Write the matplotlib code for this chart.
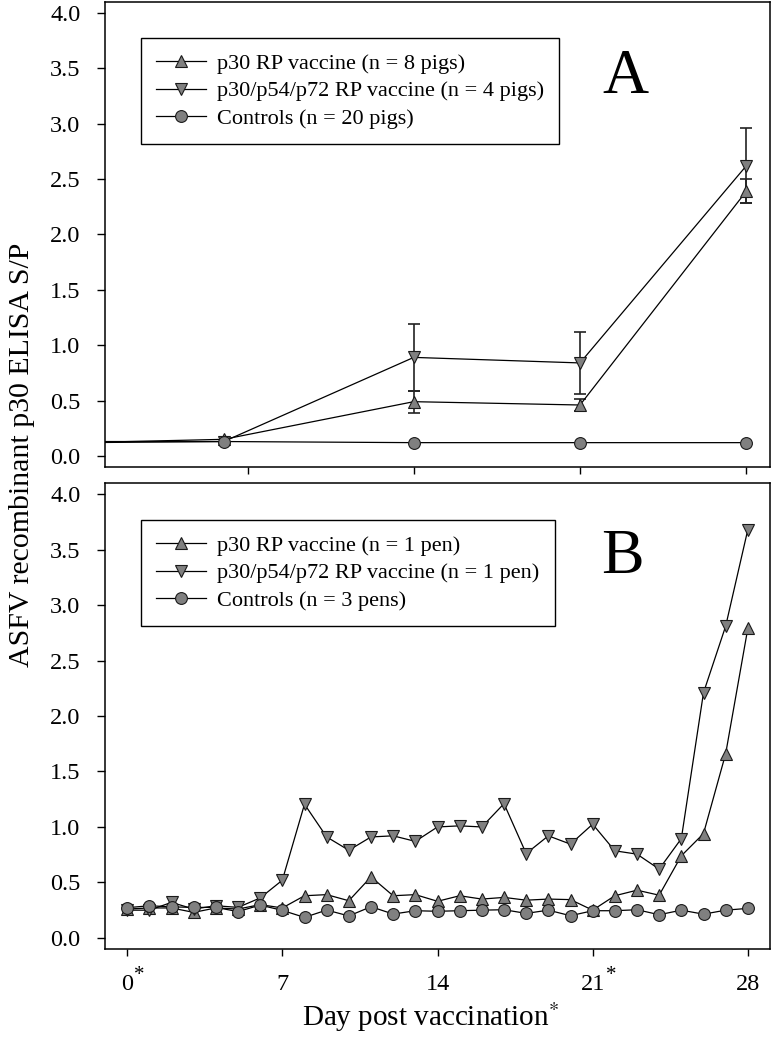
import matplotlib
matplotlib.use("Agg")
import matplotlib.pyplot as plt
from matplotlib.lines import Line2D

plt.rcParams["font.family"] = ["Liberation Serif", "DejaVu Serif"]
plt.rcParams["mathtext.fontset"] = "stix"

# ---- data ------------------------------------------------------------------
# panel A: individual pigs, mean +/- SE
days_a = [0, 6, 14, 21, 28]
p30_a = [0.12, 0.15, 0.49, 0.46, 2.39]
p30_a_err = [0, 0, 0.10, 0.05, 0.11]
multi_a = [0.13, 0.13, 0.89, 0.84, 2.62]
multi_a_err = [0, 0, 0.30, 0.28, 0.34]
ctrl_a = [0.12, 0.13, 0.12, 0.12, 0.12]

# panel B: pen oral fluids, daily
days_b = list(range(29))
p30_b = [0.26, 0.27, 0.27, 0.23, 0.27, 0.26, 0.30, 0.27, 0.38, 0.39,
         0.335, 0.55, 0.38, 0.39, 0.33, 0.38, 0.35, 0.365, 0.34, 0.35,
         0.345, 0.25, 0.38, 0.43, 0.385, 0.74, 0.94, 1.66, 2.79]
multi_b = [0.25, 0.25, 0.32, 0.26, 0.29, 0.275, 0.36, 0.52, 1.205, 0.91,
           0.79, 0.91, 0.92, 0.87, 1.0, 1.01, 1.0, 1.21, 0.76, 0.92,
           0.845, 1.025, 0.785, 0.755, 0.62, 0.895, 2.21, 2.81, 3.68]
ctrl_b = [0.272, 0.29, 0.28, 0.275, 0.275, 0.237, 0.296, 0.248, 0.185, 0.251,
          0.198, 0.281, 0.215, 0.245, 0.24, 0.245, 0.25, 0.254, 0.221, 0.25,
          0.2, 0.245, 0.245, 0.254, 0.209, 0.25, 0.214, 0.25, 0.266]

labels_a = ["p30 RP vaccine (n = 8 pigs)",
            "p30/p54/p72 RP vaccine (n = 4 pigs)",
            "Controls (n = 20 pigs)"]
labels_b = ["p30 RP vaccine (n = 1 pen)",
            "p30/p54/p72 RP vaccine (n = 1 pen)",
            "Controls (n = 3 pens)"]
yticks = [0.0, 0.5, 1.0, 1.5, 2.0, 2.5, 3.0, 3.5, 4.0]
xticks_b = [0, 7, 14, 21, 28]
xticklabels_b = ["0$^{*}$", "7", "14", "21$^{*}$", "28"]

# ---- style -------------------------------------------------------------------
GREY = "#808080"
EDGE = "#1a1a1a"
MK = dict(markersize=8.5, markerfacecolor=GREY, markeredgecolor=EDGE,
          markeredgewidth=0.8, color="black", linewidth=0.9)
W, H = 773, 1043

fig = plt.figure(figsize=(W / 100, H / 100), dpi=100)
axA = fig.add_axes([105 / W, 1 - 467 / H, 665 / W, 465 / H])
axB = fig.add_axes([105 / W, 1 - 949 / H, 665 / W, 466 / H])


def errbars(ax, x, y, e):
    xs = [a for a, s in zip(x, e) if s > 0]
    ys = [b for b, s in zip(y, e) if s > 0]
    es = [s for s in e if s > 0]
    ax.errorbar(xs, ys, yerr=es, fmt="none", ecolor="#222222",
                elinewidth=1.2, capsize=4.5, capthick=1.2, zorder=1)


def style(ax):
    ax.set_ylim(-0.1, 4.1)
    ax.set_yticks(yticks)
    ax.set_yticklabels([f"{v:.1f}" for v in yticks])
    for s in ax.spines.values():
        s.set_linewidth(1.1)
    ax.tick_params(axis="y", direction="out", length=5.8, width=1.0,
                   labelsize=17.5, pad=12)
    ax.tick_params(axis="x", direction="out", length=5, width=1.0)


def legend(ax, labels, top_px):
    handles = [Line2D([], [], marker="^", **MK),
               Line2D([], [], marker="v", **MK),
               Line2D([], [], marker="o", **MK)]
    leg = ax.legend(handles, labels, loc="upper left",
                    bbox_to_anchor=(141 / W, 1 - top_px / H),
                    bbox_transform=fig.transFigure, borderaxespad=0,
                    fontsize=16, handlelength=2.25, handletextpad=0.5,
                    labelspacing=0.32, borderpad=0.68, fancybox=False,
                    framealpha=1, edgecolor="black")
    leg.get_frame().set_linewidth(1.0)


# ---- panel A -----------------------------------------------------------------
errbars(axA, days_a, p30_a, p30_a_err)
errbars(axA, days_a, multi_a, multi_a_err)
axA.plot(days_a, p30_a, marker="^", zorder=2, **MK)
axA.plot(days_a, multi_a, marker="v", zorder=2, **MK)
axA.plot(days_a, ctrl_a, marker="o", zorder=3, **MK)
axA.set_xlim(1, 29)
axA.set_xticks([7, 14, 21, 28])
axA.set_xticklabels([])
style(axA)
legend(axA, labels_a, 38)
fig.text(625 / W, 1 - 78 / H, "A", fontsize=46, ha="center", va="center")

# ---- panel B -----------------------------------------------------------------
axB.plot(days_b, p30_b, marker="^", zorder=2, **MK)
axB.plot(days_b, multi_b, marker="v", zorder=2, **MK)
axB.plot(days_b, ctrl_b, marker="o", zorder=3, **MK)
axB.set_xlim(-1, 29)
axB.set_xticks(xticks_b)
axB.set_xticklabels([])
# labels placed on a common baseline (the superscript * would shift 'top' alignment)
for xv, lab in zip(xticks_b, xticklabels_b):
    axB.text(xv, -41 / 466, lab.split("$")[0], transform=axB.get_xaxis_transform(),
             fontsize=17.5, ha="center", va="baseline")
    if "$" in lab:
        axB.annotate("*", xy=(xv, -41 / 466), xycoords=axB.get_xaxis_transform(),
                     xytext=(4.5 * len(lab.split("$")[0]) + 0.5, 7.5),
                     textcoords="offset points", fontsize=15,
                     ha="left", va="baseline")
style(axB)
legend(axB, labels_b, 520)
fig.text(622 / W, 1 - 558 / H, "B", fontsize=46, ha="center", va="center")

fig.text(431 / W, 1 - 1026 / H, "Day post vaccination$^{*}$",
         fontsize=21, ha="center", va="baseline")
fig.text(22 / W, 1 - 455 / H, "ASFV recombinant p30 ELISA S/P",
         fontsize=21.5, rotation=90, ha="center", va="center")

fig.savefig("out.png", dpi=100)
